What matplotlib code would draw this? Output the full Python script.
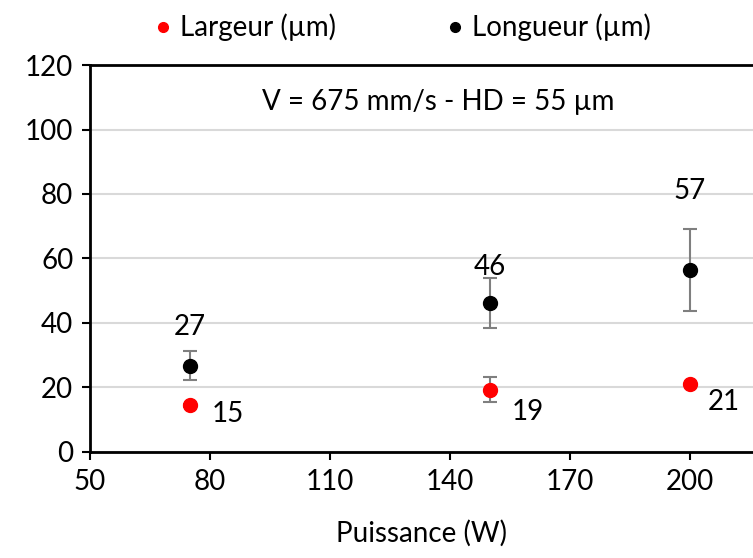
import matplotlib.pyplot as plt
from matplotlib.lines import Line2D

plt.rcParams['font.family'] = ['Lato', 'DejaVu Sans']

# données
puissance = [75, 150, 200]
largeur = [14.5, 19.3, 21.0]
largeur_err = [0.5, 3.9, 0.0]
longueur = [26.8, 46.3, 56.5]
longueur_err = [4.6, 7.7, 12.7]
largeur_lbl = ['15', '19', '21']
longueur_lbl = ['27', '46', '57']

fs = 20
fig = plt.figure(figsize=(7.53, 5.58), dpi=100)
ax = fig.add_axes([0.1195, 0.19, 0.8805, 0.6935])

ax.errorbar(puissance, largeur, yerr=largeur_err, fmt='o', color='#ff0000',
            ecolor='#7f7f7f', elinewidth=1.5, capsize=5, capthick=1.5,
            markersize=10, zorder=3)
ax.errorbar(puissance, longueur, yerr=longueur_err, fmt='o', color='black',
            ecolor='#7f7f7f', elinewidth=1.5, capsize=5, capthick=1.5,
            markersize=10, zorder=3)

# étiquettes des points (décalages en points, déplacées à la main comme dans Excel)
off_long = [(0, 28), (0, 26), (0, 57)]
off_larg = [(27, -6), (27, -16), (24, -13)]
for x, y, t, o in zip(puissance, longueur, longueur_lbl, off_long):
    ax.annotate(t, (x, y), xytext=o, textcoords='offset points',
                ha='center', va='center', fontsize=fs)
for x, y, t, o in zip(puissance, largeur, largeur_lbl, off_larg):
    ax.annotate(t, (x, y), xytext=o, textcoords='offset points',
                ha='center', va='center', fontsize=fs)

ax.text(0.525, 0.905, 'V = 675 mm/s - HD = 55 µm', transform=ax.transAxes,
        ha='center', va='center', fontsize=fs)

ax.set_xlim(50, 215.75)
ax.set_ylim(0, 120)
ax.set_xticks([50, 80, 110, 140, 170, 200])
ax.set_yticks(range(0, 121, 20))
ax.tick_params(labelsize=fs, direction='out', length=6, width=1.5, pad=6)
ax.set_xlabel('Puissance (W)', fontsize=fs, labelpad=18)
ax.grid(axis='y', color='#d9d9d9', linewidth=1.5)
ax.set_axisbelow(True)
for s in ['left', 'bottom', 'top']:
    ax.spines[s].set_linewidth(2)
ax.spines['right'].set_visible(False)

handles = [Line2D([], [], marker='o', ls='', color='#ff0000', markersize=7),
           Line2D([], [], marker='o', ls='', color='black', markersize=7)]
fig.legend(handles, ['Largeur (µm)', 'Longueur (µm)'], loc='upper center',
           bbox_to_anchor=(0.535, 1.02), ncol=2, frameon=False, fontsize=fs,
           handlelength=0.6, handletextpad=0.3, columnspacing=4)

fig.savefig('out.png', dpi=100)
